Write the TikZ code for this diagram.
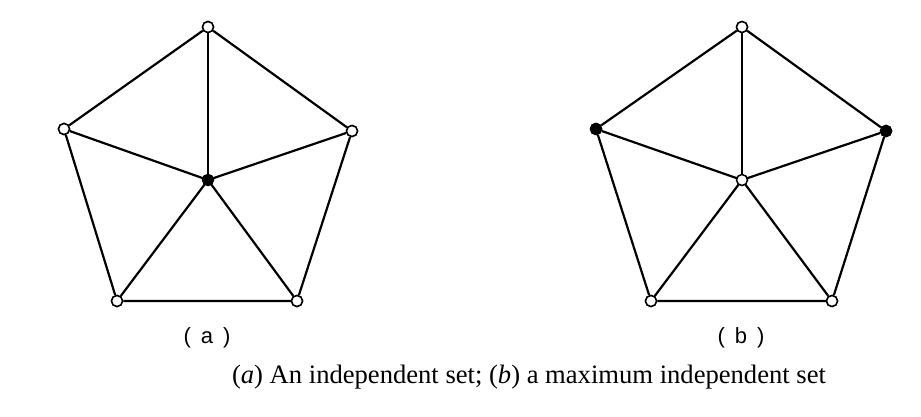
\documentclass[tikz,border=0pt]{standalone}
\usepackage{fontspec}
\setmainfont{Liberation Serif}
\newfontfamily\lblfont{Liberation Sans}
\begin{document}
\begin{tikzpicture}[x=1pt,y=-1pt,
  v/.style={circle,draw,fill=white,line width=1.5pt,inner sep=0pt,minimum size=11pt},
  vb/.style={v,fill=black},
  e/.style={line width=2.2pt},
  lbl/.style={font=\lblfont\fontsize{22}{26}\selectfont},
  captext/.style={font=\fontsize{26.6}{30}\selectfont}]
\useasboundingbox (0,0) rectangle (921,417);
% (a)
\coordinate (aC) at (208,180);
\node[v] (aT) at (208,27) {};
\node[v] (aL) at (64,129) {};
\node[v] (aR) at (352,131) {};
\node[v] (aBL) at (117,301) {};
\node[v] (aBR) at (297,301) {};
\draw[e] (aT) -- (aL) -- (aBL) -- (aBR) -- (aR) -- (aT);
\foreach \n in {aT,aL,aR,aBL,aBR} \draw[e] (aC) -- (\n);
\node[vb] (aCn) at (aC) {};
% (b)
\coordinate (bC) at (742,180);
\node[v] (bT) at (742,27) {};
\node[vb] (bL) at (596,129) {};
\node[vb] (bR) at (886,131) {};
\node[v] (bBL) at (651,301) {};
\node[v] (bBR) at (832,301) {};
\draw[e] (bT) -- (bL) -- (bBL) -- (bBR) -- (bR) -- (bT);
\foreach \n in {bT,bL,bR,bBL,bBR} \draw[e] (bC) -- (\n);
\node[v] (bCn) at (bC) {};
% redraw vertices on top
\node[v] at (aT) {}; \node[v] at (aL) {}; \node[v] at (aR) {}; \node[v] at (aBL) {}; \node[v] at (aBR) {};
\node[v] at (bT) {}; \node[vb] at (bL) {}; \node[vb] at (bR) {}; \node[v] at (bBL) {}; \node[v] at (bBR) {};
\node[lbl] (la) at (207,338) {(\hspace{10pt}a\hspace{10pt})};
\node[lbl] (lb) at (741,338) {(\hspace{10pt}b\hspace{10pt})};
\node[captext] (cp) at (529,377) {(\textit{a}) An independent set; (\textit{b}) a maximum independent set};
\end{tikzpicture}
\end{document}
